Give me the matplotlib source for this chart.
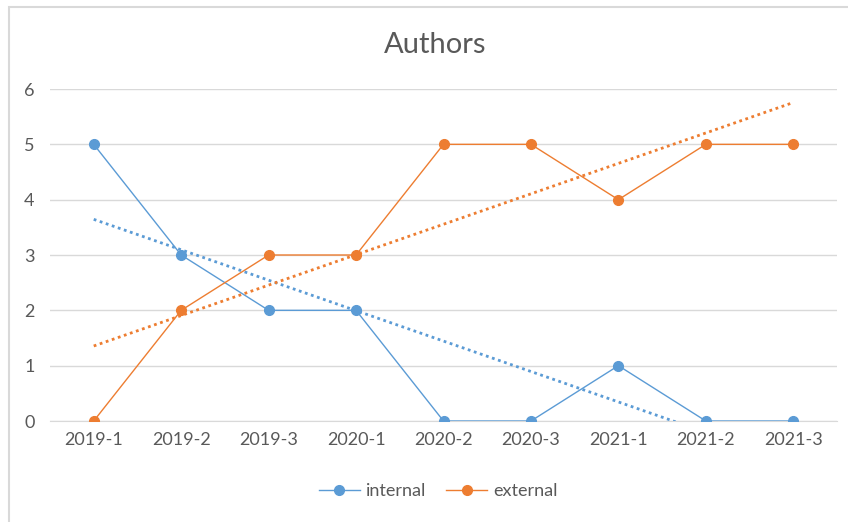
import numpy as np
import matplotlib
matplotlib.use('Agg')
import matplotlib.pyplot as plt
from matplotlib.patches import Rectangle

periods = ['2019-1', '2019-2', '2019-3', '2020-1', '2020-2', '2020-3',
           '2021-1', '2021-2', '2021-3']
internal = [5, 3, 2, 2, 0, 0, 1, 0, 0]
external = [0, 2, 3, 3, 5, 5, 4, 5, 5]

blue = '#5B9BD5'
orange = '#ED7D31'
grey = '#595959'

plt.rcParams['font.family'] = ['Lato', 'DejaVu Sans']

fig = plt.figure(figsize=(8.48, 5.22), dpi=100)
ax = fig.add_axes([50 / 848, 1 - 421 / 522, 787 / 848, 332 / 522])

# chart border (only top and left visible in the crop)
fig.patches.append(Rectangle((9 / 848, -0.1), 1.2, 1.1 - 7 / 522,
                             transform=fig.transFigure, fill=False,
                             edgecolor='#D9D9D9', linewidth=1.5))

x = np.arange(len(periods))
ax.plot(x, internal, color=blue, lw=1.0, marker='o', ms=7, label='internal', zorder=3)
ax.plot(x, external, color=orange, lw=1.0, marker='o', ms=7, label='external', zorder=3)

# linear trendlines
for vals, col in [(internal, blue), (external, orange)]:
    k, b = np.polyfit(x, vals, 1)
    ax.plot(x[[0, -1]], k * x[[0, -1]] + b, color=col, lw=2,
            linestyle=(0, (1, 1.3)), zorder=4)

ax.set_xlim(-0.5, len(periods) - 0.5)
ax.set_ylim(0, 6)
ax.set_yticks(range(7))
ax.set_xticks(x)
ax.set_xticklabels(periods)
ax.grid(axis='y', color='#D9D9D9', lw=1)
ax.set_axisbelow(True)
for s in ['top', 'right', 'left']:
    ax.spines[s].set_visible(False)
ax.spines['bottom'].set_color('#D9D9D9')
ax.tick_params(length=0, labelsize=13, colors=grey)
ax.tick_params(axis='y', pad=11)
ax.tick_params(axis='x', pad=8)

fig.text(435 / 848, 1 - 45 / 522, 'Authors', ha='center', va='center',
         fontsize=21, color=grey)
fig.legend(loc='center', bbox_to_anchor=(438 / 848, 1 - 491 / 522), ncol=2,
           frameon=False, fontsize=13, labelcolor=grey, handlelength=2.3,
           handletextpad=0.3, columnspacing=1.1)

fig.savefig('out.png', dpi=100)
